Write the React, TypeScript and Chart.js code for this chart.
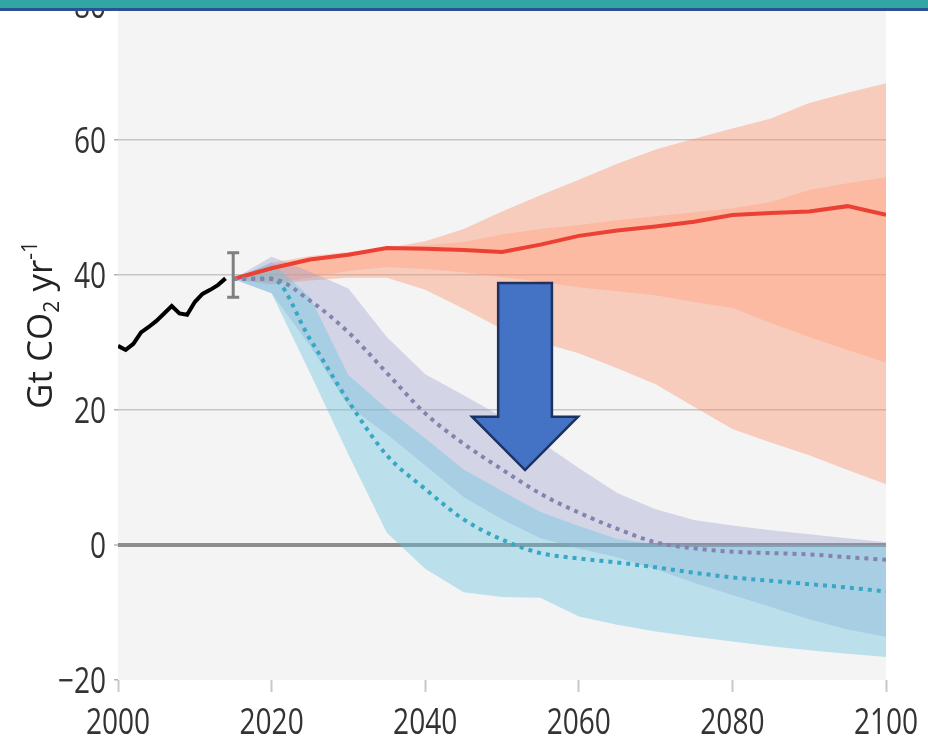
import React, { useEffect, useRef } from "react";
import { Chart, registerables } from "chart.js";

Chart.register(...registerables);

// ---------- data ----------
const HIST_YEARS = [2000, 2001, 2002, 2003, 2004, 2005, 2006, 2007, 2008, 2009, 2010, 2011, 2012, 2013, 2014];
const HIST_EMISSIONS = [29.5, 28.9, 29.8, 31.5, 32.3, 33.2, 34.3, 35.4, 34.3, 34.1, 36.0, 37.2, 37.8, 38.5, 39.5];

const YEARS = [2015, 2020, 2025, 2030, 2035, 2040, 2045, 2050, 2055, 2060, 2065, 2070, 2075, 2080, 2085, 2090, 2095, 2100];

// baseline (no climate policy)
const REF_MEDIAN = [39.4, 41.0, 42.3, 43.0, 44.0, 43.9, 43.7, 43.4, 44.5, 45.8, 46.6, 47.2, 47.9, 48.9, 49.2, 49.4, 50.2, 48.9];
const REF_OUTER_HI = [39.4, 41.8, 42.8, 43.4, 44.0, 45.0, 46.8, 49.4, 51.8, 54.1, 56.5, 58.6, 60.2, 61.7, 63.2, 65.5, 67.0, 68.4];
const REF_INNER_HI = [39.4, 41.5, 42.6, 43.3, 44.0, 44.4, 44.9, 46.0, 46.8, 47.4, 48.1, 48.7, 49.3, 49.9, 50.8, 52.6, 53.6, 54.5];
const REF_INNER_LO = [39.4, 38.8, 39.6, 40.6, 41.2, 40.9, 40.4, 39.7, 39.0, 38.2, 37.6, 37.0, 36.0, 35.1, 32.9, 30.8, 28.9, 27.0];
const REF_OUTER_LO = [39.4, 38.6, 39.2, 39.6, 39.6, 37.8, 35.0, 32.0, 30.0, 28.4, 26.2, 23.8, 20.5, 17.2, 15.2, 13.3, 11.1, 9.0];

// 2 °C pathways
const T2_MEDIAN = [39.4, 39.4, 36.2, 31.5, 25.5, 19.5, 15.0, 11.2, 7.6, 4.8, 2.4, 0.4, -0.5, -1.0, -1.2, -1.4, -1.8, -2.2];
const T2_HI = [39.4, 42.7, 40.5, 38.0, 30.8, 25.3, 22.2, 19.0, 15.3, 11.4, 7.7, 5.3, 3.7, 2.9, 2.2, 1.6, 1.0, 0.4];
const T2_LO = [39.4, 37.3, 29.5, 20.6, 16.4, 11.8, 7.1, 3.8, 1.0, -0.5, -1.8, -3.6, -5.6, -7.4, -9.2, -11.0, -12.5, -13.6];

// 1.5 °C pathways
const T15_MEDIAN = [39.4, 39.5, 30.5, 21.3, 13.3, 8.3, 3.8, 0.8, -1.2, -2.0, -2.6, -3.3, -4.1, -4.8, -5.3, -5.8, -6.3, -6.9];
const T15_HI = [39.4, 41.9, 36.7, 25.2, 20.2, 15.8, 11.2, 8.0, 4.9, 2.8, 0.9, 0.1, 0, 0, 0, 0, 0, 0];
const T15_LO = [39.4, 37.3, 25.5, 13.4, 1.8, -3.5, -7.0, -7.7, -7.8, -10.6, -11.8, -12.8, -13.6, -14.3, -15.0, -15.6, -16.1, -16.6];

// uncertainty of the 2015 value
const ERR_YEAR = 2015;
const ERR_LOW = 36.7;
const ERR_HIGH = 43.3;

const X_TICKS = [2000, 2020, 2040, 2060, 2080, 2100];
const Y_TICKS = [-20, 0, 20, 40, 60, 80];

// arrow annotation, in data units (years / Gt)
const ARROW = { x: 2053, shaftHalf: 3.5, headHalf: 6.9, top: 38.8, neck: 19.0, tip: 11.1 };

// ---------- helpers ----------
const pts = (xs: number[], ys: number[]) => xs.map((x, i) => ({ x, y: ys[i] }));
const fmtY = (v: number) => (v < 0 ? "\u2212" + Math.abs(v) : String(v));

const TICK_FONT = "'Open Sans', 'DejaVu Sans', sans-serif";
const TICK_SIZE = 36;
const TICK_SQUEEZE = 0.78; // condensed look of the original face
const TITLE_FONT = "'Open Sans', 'Liberation Sans', sans-serif";

const CANVAS_W = 928;
const CANVAS_H = 784;
const CANVAS_TOP = -40;

const plotBg = {
  id: "plotBg",
  beforeDraw(chart: any) {
    const { ctx, chartArea: a } = chart;
    ctx.save();
    ctx.fillStyle = "#f4f4f4";
    ctx.fillRect(a.left, a.top, a.right - a.left, a.bottom - a.top);
    ctx.restore();
  },
};

// tick labels of the chart's own scales, drawn in a condensed face
const tickLabels = {
  id: "tickLabels",
  afterDraw(chart: any) {
    const { ctx, chartArea: a } = chart;
    const xs = chart.scales.x;
    const ys = chart.scales.y;
    ctx.save();
    ctx.fillStyle = "#333333";
    ctx.font = `${TICK_SIZE}px ${TICK_FONT}`;
    ctx.textBaseline = "alphabetic";
    const digitHalf = TICK_SIZE * 0.714 / 2;
    xs.ticks.forEach((t: any) => {
      const px = xs.getPixelForValue(t.value);
      ctx.save();
      ctx.translate(px, a.bottom + 54);
      ctx.scale(TICK_SQUEEZE, 1);
      ctx.textAlign = "center";
      ctx.fillText(String(t.value), 0, 0);
      ctx.restore();
    });
    ys.ticks.forEach((t: any) => {
      const py = ys.getPixelForValue(t.value);
      ctx.save();
      ctx.translate(a.left - 12, py + digitHalf);
      ctx.scale(TICK_SQUEEZE, 1);
      ctx.textAlign = "right";
      ctx.fillText(fmtY(t.value), 0, 0);
      ctx.restore();
    });
    ctx.restore();
  },
};

const arrowPlugin = {
  id: "arrow",
  afterDatasetsDraw(chart: any) {
    const { ctx } = chart;
    const xs = chart.scales.x;
    const ys = chart.scales.y;
    const X = (v: number) => xs.getPixelForValue(v);
    const Y = (v: number) => ys.getPixelForValue(v);
    ctx.save();
    ctx.beginPath();
    ctx.moveTo(X(ARROW.x - ARROW.shaftHalf), Y(ARROW.top));
    ctx.lineTo(X(ARROW.x + ARROW.shaftHalf), Y(ARROW.top));
    ctx.lineTo(X(ARROW.x + ARROW.shaftHalf), Y(ARROW.neck));
    ctx.lineTo(X(ARROW.x + ARROW.headHalf), Y(ARROW.neck));
    ctx.lineTo(X(ARROW.x), Y(ARROW.tip));
    ctx.lineTo(X(ARROW.x - ARROW.headHalf), Y(ARROW.neck));
    ctx.lineTo(X(ARROW.x - ARROW.shaftHalf), Y(ARROW.neck));
    ctx.closePath();
    ctx.fillStyle = "#4472c4";
    ctx.fill();
    ctx.lineWidth = 2.5;
    ctx.lineJoin = "miter";
    ctx.strokeStyle = "#1c3360";
    ctx.stroke();
    ctx.restore();
  },
};

const yTitlePlugin = {
  id: "yTitle",
  afterDraw(chart: any) {
    const { ctx } = chart;
    const big = 35;
    const small = 21;
    const parts = [
      { t: "Gt CO", s: big, dy: 0 },
      { t: "2", s: small, dy: 7 },
      { t: " yr", s: big, dy: 0 },
      { t: "-1", s: small, dy: -15 },
    ];
    ctx.save();
    ctx.translate(52, 325 - CANVAS_TOP);
    ctx.rotate(-Math.PI / 2);
    ctx.fillStyle = "#222";
    ctx.textBaseline = "alphabetic";
    let total = 0;
    const widths = parts.map((p) => {
      ctx.font = `${p.s}px ${TITLE_FONT}`;
      const w = ctx.measureText(p.t).width;
      total += w;
      return w;
    });
    let x = -total / 2;
    parts.forEach((p, i) => {
      ctx.font = `${p.s}px ${TITLE_FONT}`;
      ctx.fillText(p.t, x, p.dy);
      x += widths[i];
    });
    ctx.restore();
  },
};

function band(hi: number[], lo: number[], color: string, order: number) {
  return [
    {
      data: pts(YEARS, hi),
      borderWidth: 0,
      borderColor: "rgba(0,0,0,0)",
      pointRadius: 0,
      backgroundColor: color,
      fill: "+1",
      tension: 0,
      order,
    },
    {
      data: pts(YEARS, lo),
      borderWidth: 0,
      borderColor: "rgba(0,0,0,0)",
      pointRadius: 0,
      fill: false,
      tension: 0,
      order,
    },
  ];
}

export default function App() {
  const ref = useRef<HTMLCanvasElement | null>(null);

  useEffect(() => {
    if (!ref.current) return;
    const chart = new Chart(ref.current, {
      type: "line",
      data: {
        datasets: [
          ...band(REF_OUTER_HI, REF_OUTER_LO, "rgba(255,140,100,0.38)", 10),
          ...band(REF_INNER_HI, REF_INNER_LO, "rgba(255,160,120,0.4)", 9),
          ...band(T2_HI, T2_LO, "rgba(150,155,205,0.35)", 8),
          ...band(T15_HI, T15_LO, "rgba(102,194,222,0.4)", 7),
          {
            data: pts(YEARS, REF_MEDIAN),
            borderColor: "#ec4034",
            borderWidth: 4,
            pointRadius: 0,
            fill: false,
            tension: 0,
            order: 3,
          },
          {
            data: pts(YEARS, T2_MEDIAN),
            borderColor: "#8582ae",
            borderWidth: 4,
            borderDash: [4, 5],
            borderCapStyle: "butt",
            pointRadius: 0,
            fill: false,
            cubicInterpolationMode: "monotone",
            order: 2,
          },
          {
            data: pts(YEARS, T15_MEDIAN),
            borderColor: "#37a7c3",
            borderWidth: 4,
            borderDash: [4, 5],
            borderCapStyle: "butt",
            pointRadius: 0,
            fill: false,
            cubicInterpolationMode: "monotone",
            order: 2,
          },
          {
            data: pts(HIST_YEARS, HIST_EMISSIONS),
            borderColor: "#000000",
            borderWidth: 4,
            pointRadius: 0,
            fill: false,
            tension: 0,
            order: 1,
          },
          {
            data: [
              { x: ERR_YEAR, y: ERR_LOW },
              { x: ERR_YEAR, y: ERR_HIGH },
            ],
            borderColor: "#7f7f7f",
            borderWidth: 3,
            pointStyle: "line",
            pointRadius: 6,
            pointBorderWidth: 3,
            pointBorderColor: "#7f7f7f",
            fill: false,
            order: 1,
          },
        ] as any,
      },
      options: {
        animation: false,
        responsive: false,
        devicePixelRatio: 1,
        events: [],
        layout: { padding: { top: 45, left: 0, right: 42, bottom: 0 } },
        plugins: {
          legend: { display: false },
          tooltip: { enabled: false },
          title: { display: false },
        },
        scales: {
          x: {
            type: "linear",
            min: 2000,
            max: 2100,
            afterBuildTicks: (s: any) => {
              s.ticks = X_TICKS.map((v) => ({ value: v }));
            },
            afterFit: (s: any) => {
              s.height = 64;
            },
            border: { display: false },
            grid: {
              drawOnChartArea: false,
              drawTicks: true,
              tickLength: 12,
              tickColor: "#c8c8c8",
              tickWidth: 2,
            },
            ticks: { display: false },
          },
          y: {
            type: "linear",
            min: -20,
            max: 80,
            afterBuildTicks: (s: any) => {
              s.ticks = Y_TICKS.map((v) => ({ value: v }));
            },
            afterFit: (s: any) => {
              s.width = 118;
            },
            border: { display: false },
            grid: {
              color: (c: any) => {
                const v = c.tick ? c.tick.value : null;
                if (v === 0) return "#8c8c8c";
                if (v === -20 || v === 80) return "rgba(0,0,0,0)";
                return "#c6c6c6";
              },
              lineWidth: (c: any) => (c.tick && c.tick.value === 0 ? 4 : 1.5),
              tickLength: 4,
              tickColor: "#b4b4b4",
              tickWidth: 1.5,
            },
            ticks: { display: false },
          },
        },
      } as any,
      plugins: [plotBg, arrowPlugin, tickLabels, yTitlePlugin],
    });
    return () => chart.destroy();
  }, []);

  return (
    <div
      style={{
        position: "fixed",
        left: 0,
        top: 0,
        width: 928,
        height: 744,
        overflow: "hidden",
        background: "#ffffff",
      }}
    >
      <canvas
        ref={ref}
        width={CANVAS_W}
        height={CANVAS_H}
        style={{ position: "absolute", left: 0, top: CANVAS_TOP, width: CANVAS_W, height: CANVAS_H }}
      />
      <div style={{ position: "absolute", left: 0, top: 0, width: 928, height: 8, background: "#32a6a3" }} />
      <div style={{ position: "absolute", left: 0, top: 8, width: 928, height: 3, background: "#2d5091" }} />
    </div>
  );
}
